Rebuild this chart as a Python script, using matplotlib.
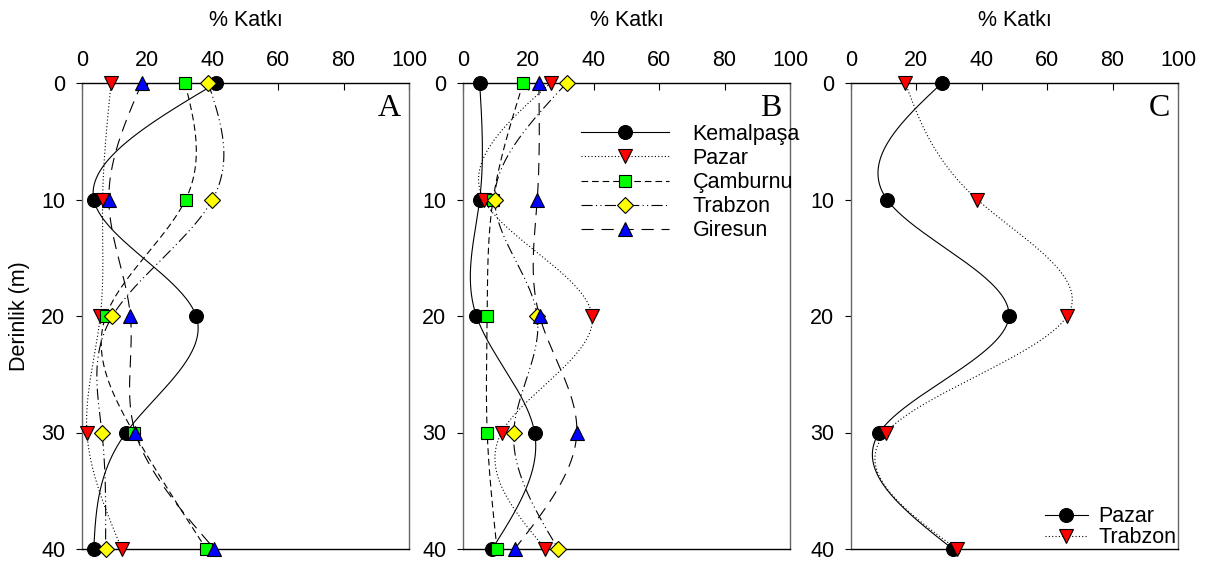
import numpy as np
import matplotlib
matplotlib.use('Agg')
import matplotlib.pyplot as plt

# depth levels (m)
depth = [0, 10, 20, 30, 40]

# Panel A values (% Katki)
a_kemalpasa = [41.1, 3.6, 34.9, 13.5, 3.6]
a_pazar = [8.9, 6.3, 5.6, 1.5, 12.2]
a_camburnu = [31.5, 31.7, 7.3, 15.8, 38.0]
a_trabzon = [38.6, 39.9, 9.3, 6.1, 7.2]
a_giresun = [18.3, 8.2, 14.8, 16.3, 40.5]

# Panel B values
b_kemalpasa = [5.1, 5.1, 4.1, 21.9, 8.9]
b_pazar = [26.8, 6.3, 39.5, 11.8, 25.2]
b_camburnu = [18.4, 9.2, 7.4, 7.4, 10.4]
b_trabzon = [31.7, 9.7, 22.7, 15.5, 29.1]
b_giresun = [23.2, 22.7, 23.4, 34.8, 15.8]

# Panel C values
c_pazar = [27.8, 11.0, 48.3, 8.7, 31.1]
c_trabzon = [16.6, 38.6, 66.1, 10.7, 32.3]

names = ['Kemalpaşa', 'Pazar', 'Çamburnu', 'Trabzon', 'Giresun']


def natural_spline(t, v, n=300):
    # natural cubic spline of v over t
    t = np.asarray(t, float)
    v = np.asarray(v, float)
    k = len(t)
    h = np.diff(t)
    A = np.zeros((k, k))
    r = np.zeros(k)
    A[0, 0] = 1
    A[-1, -1] = 1
    for i in range(1, k - 1):
        A[i, i - 1] = h[i - 1]
        A[i, i] = 2 * (h[i - 1] + h[i])
        A[i, i + 1] = h[i]
        r[i] = 6 * ((v[i + 1] - v[i]) / h[i] - (v[i] - v[i - 1]) / h[i - 1])
    M = np.linalg.solve(A, r)
    tt = np.linspace(t[0], t[-1], n)
    idx = np.clip(np.searchsorted(t, tt) - 1, 0, k - 2)
    t0, t1 = t[idx], t[idx + 1]
    hh = t1 - t0
    a = (t1 - tt) / hh
    b = (tt - t0) / hh
    vv = (a * v[idx] + b * v[idx + 1]
          + ((a ** 3 - a) * M[idx] + (b ** 3 - b) * M[idx + 1]) * hh ** 2 / 6)
    return tt, vv


styles = {
    'Kemalpaşa': dict(ls='-', marker='o', mfc='black', ms=10),
    'Pazar': dict(ls=(0, (1, 2)), marker='v', mfc='red', ms=10),
    'Çamburnu': dict(ls=(0, (6, 3.5)), marker='s', mfc='#00ff00', ms=9),
    'Trabzon': dict(ls=(0, (10, 3, 1, 3, 1, 3)), marker='D', mfc='yellow', ms=8.5),
    'Giresun': dict(ls=(0, (11, 7)), marker='^', mfc='blue', ms=10),
}

plt.rcParams['font.family'] = ['Liberation Sans', 'DejaVu Sans']
plt.rcParams['font.size'] = 15.5

fig = plt.figure(figsize=(12.21, 5.63), dpi=100)
lefts = [82 / 1221, 463 / 1221, 851 / 1221]
axes = [fig.add_axes([l, 14 / 563, 327 / 1221, 466 / 563]) for l in lefts]


def draw(ax, label, vals, st):
    tt, vv = natural_spline(depth, vals)
    ax.plot(vv, tt, color='black', lw=0.8, ls=st['ls'])
    ax.plot(vals, depth, ls='none', marker=st['marker'], mfc=st['mfc'],
            mec='black', mew=0.8, ms=st['ms'], clip_on=False, zorder=5)
    # proxy for legend
    return ax.plot([], [], color='black', lw=0.8, ls=st['ls'], marker=st['marker'],
                   mfc=st['mfc'], mec='black', mew=0.8, ms=st['ms'], label=label)[0]


data_a = [a_kemalpasa, a_pazar, a_camburnu, a_trabzon, a_giresun]
data_b = [b_kemalpasa, b_pazar, b_camburnu, b_trabzon, b_giresun]

for nm, vals in zip(names, data_a):
    draw(axes[0], nm, vals, styles[nm])
handles = []
for nm, vals in zip(names, data_b):
    handles.append(draw(axes[1], nm, vals, styles[nm]))
hc = [draw(axes[2], 'Pazar', c_pazar, styles['Kemalpaşa']),
      draw(axes[2], 'Trabzon', c_trabzon, styles['Pazar'])]

for ax, letter in zip(axes, ['A', 'B', 'C']):
    ax.set_xlim(0, 100)
    ax.set_ylim(40, 0)
    ax.set_xticks([0, 20, 40, 60, 80, 100])
    ax.set_yticks([0, 10, 20, 30, 40])
    ax.xaxis.tick_top()
    ax.xaxis.set_label_position('top')
    ax.set_xlabel('% Katkı', labelpad=17)
    ax.tick_params(axis='x', direction='in', length=5, width=0.8, pad=9)
    ax.tick_params(axis='y', direction='out', length=4, width=0.8, pad=8)
    for s in ['top', 'bottom']:
        ax.spines[s].set_color('black')
        ax.spines[s].set_linewidth(1.0)
    for s in ['left', 'right']:
        ax.spines[s].set_color('#666666')
        ax.spines[s].set_linewidth(1.0)
    ax.text(0.975, 0.945, letter, transform=ax.transAxes, ha='right', va='center',
            fontsize=23, family='Liberation Serif')

axes[0].set_ylabel('Derinlik (m)', labelpad=8)

axes[1].legend(handles=handles, loc='upper left', bbox_to_anchor=(0.36, 0.912),
               frameon=False, handlelength=4.1, handletextpad=1.1,
               labelspacing=0.14, borderpad=0, borderaxespad=0)
axes[2].legend(handles=hc, loc='lower right', bbox_to_anchor=(0.995, 0.002),
               frameon=False, handlelength=2.0, handletextpad=0.5,
               labelspacing=0.0, borderpad=0, borderaxespad=0)

fig.savefig('out.png', dpi=100)
